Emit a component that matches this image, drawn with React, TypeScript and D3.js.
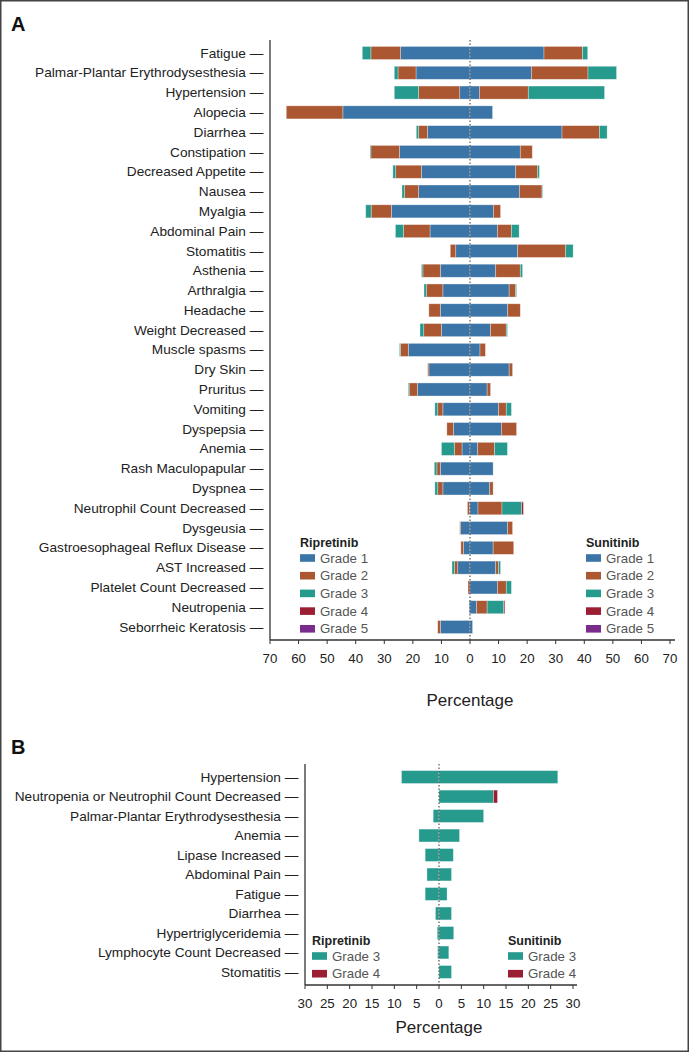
import React from "react";
import * as d3 from "d3";

// ---------- Panel A data ----------
const categoriesA = [
  "Fatigue", "Palmar-Plantar Erythrodysesthesia", "Hypertension", "Alopecia", "Diarrhea",
  "Constipation", "Decreased Appetite", "Nausea", "Myalgia", "Abdominal Pain",
  "Stomatitis", "Asthenia", "Arthralgia", "Headache", "Weight Decreased",
  "Muscle spasms", "Dry Skin", "Pruritus", "Vomiting", "Dyspepsia",
  "Anemia", "Rash Maculopapular", "Dyspnea", "Neutrophil Count Decreased", "Dysgeusia",
  "Gastroesophageal Reflux Disease", "AST  Increased", "Platelet Count Decreased", "Neutropenia", "Seborrheic Keratosis",
];
const ripG1 = [24.3, 18.9, 3.6, 44.5, 14.9, 24.7, 17.0, 18.0, 27.5, 14.0, 5.0, 10.4, 9.5, 10.4, 10.0, 21.6, 14.4, 18.4, 9.5, 5.8, 2.8, 10.4, 9.5, 0.2, 3.3, 2.3, 4.3, 0, 0.3, 10.4];
const ripG2 = [10.4, 6.3, 14.4, 19.8, 3.1, 10.0, 9.0, 4.9, 7.1, 9.3, 1.9, 6.1, 5.8, 4.0, 6.2, 2.8, 0.4, 2.9, 1.8, 2.3, 2.7, 1.2, 1.8, 0.7, 0.3, 0.9, 1.1, 0.7, 0, 0.9];
const ripG3 = [3.0, 1.3, 8.5, 0, 0.8, 0.3, 1.0, 0.9, 1.9, 2.8, 0, 0.5, 0.8, 0, 1.3, 0.3, 0, 0.3, 1.0, 0, 4.5, 0.9, 1.0, 0, 0, 0, 0.9, 0, 0, 0];
const ripG4 = [0, 0, 0, 0, 0, 0, 0, 0, 0, 0, 0, 0, 0, 0, 0, 0, 0, 0, 0, 0, 0, 0, 0, 0, 0, 0, 0, 0, 0, 0];
const ripG5 = [0, 0, 0, 0, 0, 0, 0, 0, 0, 0, 0, 0, 0, 0, 0, 0, 0, 0, 0, 0, 0, 0, 0, 0, 0, 0, 0, 0, 0, 0];
const sunG1 = [25.9, 21.5, 3.3, 7.9, 32.2, 17.6, 16.0, 17.3, 8.2, 9.6, 16.7, 9.0, 13.7, 13.2, 7.2, 3.5, 13.7, 6.0, 10.0, 11.0, 2.7, 8.1, 6.9, 2.8, 13.2, 8.1, 9.0, 9.6, 2.3, 0.9];
const sunG2 = [13.5, 19.8, 17.1, 0, 13.1, 4.2, 7.7, 7.9, 2.5, 4.9, 16.8, 8.6, 2.3, 4.4, 5.5, 1.9, 1.2, 1.2, 2.7, 5.3, 5.9, 0, 1.2, 8.4, 1.7, 7.2, 1.0, 3.1, 3.7, 0];
const sunG3 = [1.8, 10.0, 26.7, 0, 2.7, 0, 0.6, 0.2, 0, 2.7, 2.6, 0.8, 0.3, 0, 0.4, 0, 0, 0, 1.8, 0, 4.5, 0, 0, 6.9, 0, 0, 0.7, 1.8, 5.8, 0];
const sunG4 = [0, 0, 0, 0, 0, 0, 0, 0, 0, 0, 0, 0, 0, 0, 0, 0, 0, 0, 0, 0, 0, 0, 0, 0.6, 0, 0, 0, 0, 0.4, 0];
const sunG5 = [0, 0, 0, 0, 0, 0, 0, 0, 0, 0, 0, 0, 0, 0, 0, 0, 0, 0, 0, 0, 0, 0, 0, 0, 0, 0, 0, 0, 0, 0];
const ticksA = [-70, -60, -50, -40, -30, -20, -10, 0, 10, 20, 30, 40, 50, 60, 70];

// ---------- Panel B data ----------
const categoriesB = [
  "Hypertension", "Neutropenia or Neutrophil Count Decreased", "Palmar-Plantar Erythrodysesthesia",
  "Anemia", "Lipase Increased", "Abdominal Pain", "Fatigue", "Diarrhea",
  "Hypertriglyceridemia", "Lymphocyte Count Decreased", "Stomatitis",
];
const ripBG3 = [8.4, 0, 1.3, 4.5, 3.1, 2.7, 3.1, 0.8, 0.4, 0.3, 0];
const ripBG4 = [0, 0, 0, 0, 0, 0, 0, 0, 0, 0, 0];
const sunBG3 = [26.6, 12.2, 10.0, 4.6, 3.2, 2.8, 1.8, 2.8, 3.3, 2.2, 2.8];
const sunBG4 = [0, 0.9, 0, 0, 0, 0, 0, 0, 0, 0, 0];
const ticksB = [-30, -25, -20, -15, -10, -5, 0, 5, 10, 15, 20, 25, 30];

const gradeNames = ["Grade 1", "Grade 2", "Grade 3", "Grade 4", "Grade 5"];
const gradeColors = ["#3b74a6", "#ab5732", "#279a8e", "#9b1e33", "#7a2c8c"];

const FONT = "'Liberation Sans', Arial, Helvetica, sans-serif";
const TEXT = "#222";

type Seg = { key: string; x0: number; x1: number; y: number; h: number; color: string };

function buildSegs(
  cats: string[],
  left: number[][],
  right: number[][],
  colors: string[],
  x: d3.ScaleLinear<number, number>,
  y: d3.ScaleBand<string>
): Seg[] {
  const segs: Seg[] = [];
  cats.forEach((c, i) => {
    let accL = 0;
    left.forEach((arr, g) => {
      const v = arr[i] || 0;
      if (v > 0) {
        segs.push({ key: `L${i}-${g}`, x0: x(-(accL + v)), x1: x(-accL), y: y(c)!, h: y.bandwidth(), color: colors[g] });
      }
      accL += v;
    });
    let accR = 0;
    right.forEach((arr, g) => {
      const v = arr[i] || 0;
      if (v > 0) {
        segs.push({ key: `R${i}-${g}`, x0: x(accR), x1: x(accR + v), y: y(c)!, h: y.bandwidth(), color: colors[g] });
      }
      accR += v;
    });
  });
  return segs;
}

function Panel(props: {
  cats: string[];
  x: d3.ScaleLinear<number, number>;
  y: d3.ScaleBand<string>;
  segs: Seg[];
  ticks: number[];
  axisTop: number;
  axisY: number;
  axisRight: number;
  titleY: number;
  grades: number[];
  legendLeftX: number;
  legendRightX: number;
  legendTitleY: number;
  legendStep: number;
}) {
  const { cats, x, y, segs, ticks, axisTop, axisY, axisRight, titleY, grades, legendLeftX, legendRightX, legendTitleY, legendStep } = props;
  const axisX = x.range()[0];
  const legend = (lx: number, title: string) => (
    <g>
      <text x={lx} y={legendTitleY} fontFamily={FONT} fontSize={12.5} fontWeight="bold" fill={TEXT}>{title}</text>
      {grades.map((g, k) => {
        const cy = legendTitleY + 11 + k * legendStep;
        return (
          <g key={g}>
            <rect x={lx} y={cy - 3.8} width={15} height={7.6} fill={gradeColors[g]} />
            <text x={lx + 20} y={cy + 4.6} fontFamily={FONT} fontSize={13.3} fill="#555">{gradeNames[g]}</text>
          </g>
        );
      })}
    </g>
  );
  return (
    <g>
      {segs.map((s) => (
        <rect key={s.key} x={s.x0} y={s.y} width={Math.max(0, s.x1 - s.x0)} height={s.h} fill={s.color}
          stroke="#ffffff" strokeOpacity={0.45} strokeWidth={0.7} />
      ))}
      <line x1={x(0)} x2={x(0)} y1={axisTop} y2={axisY} stroke="#555" strokeWidth={1.2} strokeDasharray="1.5,2" />
      {/* y axis */}
      <line x1={axisX} x2={axisX} y1={axisTop} y2={axisY} stroke="#333" strokeWidth={1.3} />
      {cats.map((c) => (
        <text key={c} x={axisX - 6.7} y={y(c)! + y.bandwidth() / 2 + 4.6} textAnchor="end" fontFamily={FONT} fontSize={13.65} fill={TEXT}>
          {c + " \u2014"}
        </text>
      ))}
      {/* x axis */}
      <line x1={axisX} x2={axisRight} y1={axisY} y2={axisY} stroke="#333" strokeWidth={1.3} />
      {ticks.map((t) => (
        <g key={t}>
          <line x1={x(t)} x2={x(t)} y1={axisY} y2={axisY + 4} stroke="#333" strokeWidth={1} />
          <text x={x(t)} y={axisY + 23} textAnchor="middle" fontFamily={FONT} fontSize={13.3} fill={TEXT}>{Math.abs(t)}</text>
        </g>
      ))}
      <text x={x(0)} y={titleY} textAnchor="middle" fontFamily={FONT} fontSize={17} fill={TEXT}>Percentage</text>
      {legend(legendLeftX, "Ripretinib")}
      {legend(legendRightX, "Sunitinib")}
    </g>
  );
}

export default function App() {
  const xA = d3.scaleLinear().domain([-70, 70]).range([270, 670]);
  const yA = d3.scaleBand<string>().domain(categoriesA).range([43.1, 636.9]).paddingInner(0.34).paddingOuter(0.17);
  const segsA = buildSegs(categoriesA, [ripG1, ripG2, ripG3, ripG4, ripG5], [sunG1, sunG2, sunG3, sunG4, sunG5], gradeColors, xA, yA);

  const xB = d3.scaleLinear().domain([-30, 30]).range([305, 573]);
  const yB = d3.scaleBand<string>().domain(categoriesB).range([767.3, 981.7]).paddingInner(0.34).paddingOuter(0.17);
  const zerosB = categoriesB.map(() => 0);
  const segsB = buildSegs(categoriesB, [zerosB, zerosB, ripBG3, ripBG4], [zerosB, zerosB, sunBG3, sunBG4], gradeColors, xB, yB);

  return (
    <svg width={689} height={1052} style={{ position: "absolute", left: 0, top: 0, background: "#fff" }}>
      <rect x={0.75} y={0.75} width={687.5} height={1050.5} fill="#fff" stroke="#444" strokeWidth={1.5} />
      <text x={11} y={30.7} fontFamily={FONT} fontSize={20} fontWeight="bold" fill="#111">A</text>
      <text x={11} y={754} fontFamily={FONT} fontSize={20} fontWeight="bold" fill="#111">B</text>
      <Panel cats={categoriesA} x={xA} y={yA} segs={segsA} ticks={ticksA} axisTop={40} axisY={640} axisRight={675}
        titleY={706} grades={[0, 1, 2, 3, 4]} legendLeftX={300} legendRightX={586} legendTitleY={547} legendStep={17.7} />
      <Panel cats={categoriesB} x={xB} y={yB} segs={segsB} ticks={ticksB} axisTop={764} axisY={985} axisRight={577}
        titleY={1033} grades={[2, 3]} legendLeftX={312} legendRightX={508} legendTitleY={945} legendStep={17.7} />
    </svg>
  );
}
